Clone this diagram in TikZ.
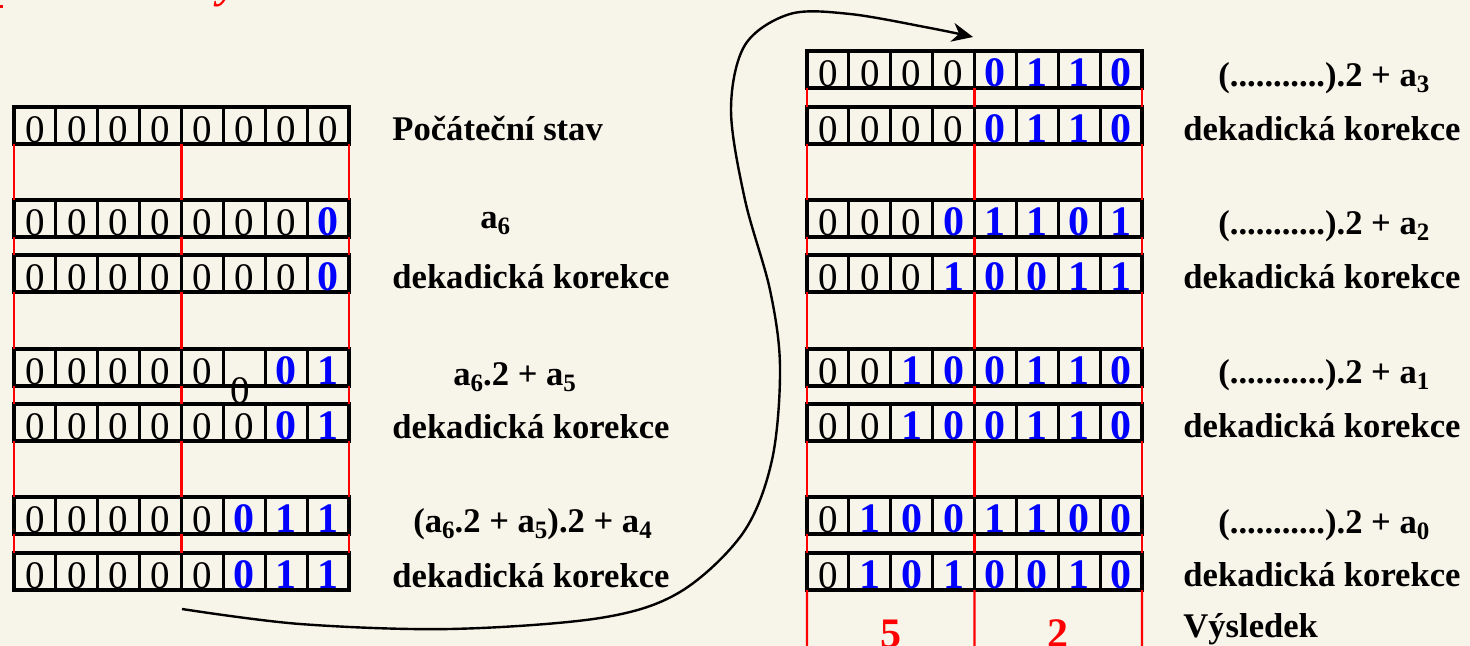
\documentclass[tikz,border=0pt]{standalone}
\usepackage{fontspec}
\setmainfont{Liberation Serif}
\usetikzlibrary{arrows.meta}
\definecolor{bg}{RGB}{247,244,233}
\definecolor{dblue}{RGB}{0,0,255}
\definecolor{rred}{RGB}{255,0,0}
\newcommand{\mysub}[1]{\raisebox{-3pt}{\fontsize{12.5}{12.5}\selectfont #1}}
\newcommand{\regrow}[4]{%
  \foreach \c/\v [count=\i] in {#4} {
    \node[cell] (#1-\i) at ({#2+(\i-0.5)*41.875},{#3+18.5}) {};
    \node[dig\c] (#1-\i-t) at ({#2+(\i-0.5)*41.875},{#3+35.5}) {\v};
  }}
\newcommand{\redgap}[2]{%
  \draw[redline] (#1-1.south west) -- (#2-1.north west);
  \draw[redline] (#1-4.south east) -- (#2-4.north east);
  \draw[redline] (#1-8.south east) -- (#2-8.north east);}
\tikzset{
  cell/.style={draw=black, line width=1.55pt, minimum width=20.94pt, minimum height=18.5pt, inner sep=0pt, outer sep=0pt},
  digk/.style={anchor=base, inner sep=0pt, font=\fontsize{19.5}{19.5}\selectfont},
  dign/.style={digk},
  digb/.style={anchor=base, inner sep=0pt, text=dblue, font=\bfseries\fontsize{21}{21}\selectfont},
  redline/.style={draw=rred, line width=1.15pt},
  lab/.style={anchor=base west, inner sep=0pt, font=\bfseries\fontsize{17.3}{17.3}\selectfont},
  res/.style={anchor=base, inner sep=0pt, text=rred, font=\bfseries\fontsize{21}{21}\selectfont},
  flow/.style={draw=black, line width=1.2pt, -{Stealth[length=10.5pt,width=9.5pt]}}
}
\begin{document}
\begin{tikzpicture}[x=0.5pt,y=-0.5pt]
\useasboundingbox (0,0) rectangle (1470,646);
\fill[bg] (0,0) rectangle (1470,646);
\begin{scope}
\clip (0,0) rectangle (1470,646);
\node[anchor=base west, inner sep=0pt, text=rred, font=\bfseries\itshape\fontsize{22}{22}\selectfont] (ttl) at (218,-2) {y};
\fill[rred] (0,5) rectangle (3,8);
% left register
\regrow{L1}{14}{107}{k/0,k/0,k/0,k/0,k/0,k/0,k/0,k/0}
\regrow{L2}{14}{200}{k/0,k/0,k/0,k/0,k/0,k/0,k/0,b/0}
\regrow{L3}{14}{255}{k/0,k/0,k/0,k/0,k/0,k/0,k/0,b/0}
\regrow{L4}{14}{349}{k/0,k/0,k/0,k/0,k/0,n/{},b/0,b/1}
\regrow{L5}{14}{404}{k/0,k/0,k/0,k/0,k/0,k/0,b/0,b/1}
\regrow{L6}{14}{497}{k/0,k/0,k/0,k/0,k/0,b/0,b/1,b/1}
\regrow{L7}{14}{553}{k/0,k/0,k/0,k/0,k/0,b/0,b/1,b/1}
\node[digk] (stray) at (240,403) {0};
\redgap{L1}{L2}\redgap{L2}{L3}\redgap{L3}{L4}\redgap{L4}{L5}\redgap{L5}{L6}\redgap{L6}{L7}
% right register
\regrow{R1}{807}{51}{k/0,k/0,k/0,k/0,b/0,b/1,b/1,b/0}
\regrow{R2}{807}{107}{k/0,k/0,k/0,k/0,b/0,b/1,b/1,b/0}
\regrow{R3}{807}{200}{k/0,k/0,k/0,b/0,b/1,b/1,b/0,b/1}
\regrow{R4}{807}{255}{k/0,k/0,k/0,b/1,b/0,b/0,b/1,b/1}
\regrow{R5}{807}{349}{k/0,k/0,b/1,b/0,b/0,b/1,b/1,b/0}
\regrow{R6}{807}{404}{k/0,k/0,b/1,b/0,b/0,b/1,b/1,b/0}
\regrow{R7}{807}{497}{k/0,b/1,b/0,b/0,b/1,b/1,b/0,b/0}
\regrow{R8}{807}{553}{k/0,b/1,b/0,b/1,b/0,b/0,b/1,b/0}
\redgap{R1}{R2}\redgap{R2}{R3}\redgap{R3}{R4}\redgap{R4}{R5}\redgap{R5}{R6}\redgap{R6}{R7}\redgap{R7}{R8}
\coordinate (E1) at (807,646);
\coordinate (E4) at (974.5,646);
\coordinate (E8) at (1142,646);
\draw[redline] (R8-1.south west) -- (E1);
\draw[redline] (R8-4.south east) -- (E4);
\draw[redline] (R8-8.south east) -- (E8);
\node[res] (five) at (891,647) {5};
\node[res] (two) at (1058,647) {2};
% left labels
\node[lab] (l1) at (392,141) {Počáteční stav};
\node[lab] (l2) at (480,229) {a\mysub{6}};
\node[lab] (l3) at (392,289) {dekadická korekce};
\node[lab] (l4) at (453,385) {a\mysub{6}.2 + a\mysub{5}};
\node[lab] (l5) at (392,438) {dekadická korekce};
\node[lab] (l6) at (413,532) {(a\mysub{6}.2 + a\mysub{5}).2 + a\mysub{4}};
\node[lab] (l7) at (392,587) {dekadická korekce};
% right labels
\node[lab] (r1) at (1218,87) {(...........).2 + a\mysub{3}};
\node[lab] (r2) at (1183,141) {dekadická korekce};
\node[lab] (r3) at (1218,235) {(...........).2 + a\mysub{2}};
\node[lab] (r4) at (1183,289) {dekadická korekce};
\node[lab] (r5) at (1218,383) {(...........).2 + a\mysub{1}};
\node[lab] (r6) at (1183,437) {dekadická korekce};
\node[lab] (r7) at (1218,533) {(...........).2 + a\mysub{0}};
\node[lab] (r8) at (1183,586) {dekadická korekce};
\node[lab] (r9) at (1183,637) {Výsledek};
% flow arrow
\coordinate (arrS) at (182,609);
\coordinate (arrE) at (973,37);
\draw[flow] plot[smooth, tension=0.55] coordinates {(arrS) (300,624) (450,629) (600,618) (680,592) (743,533) (772,460) (780,367) (770,290) (745,200) (731,110) (745,45) (790,14) (850,14) (930,28) (arrE)};
\end{scope}
\end{tikzpicture}
\end{document}
